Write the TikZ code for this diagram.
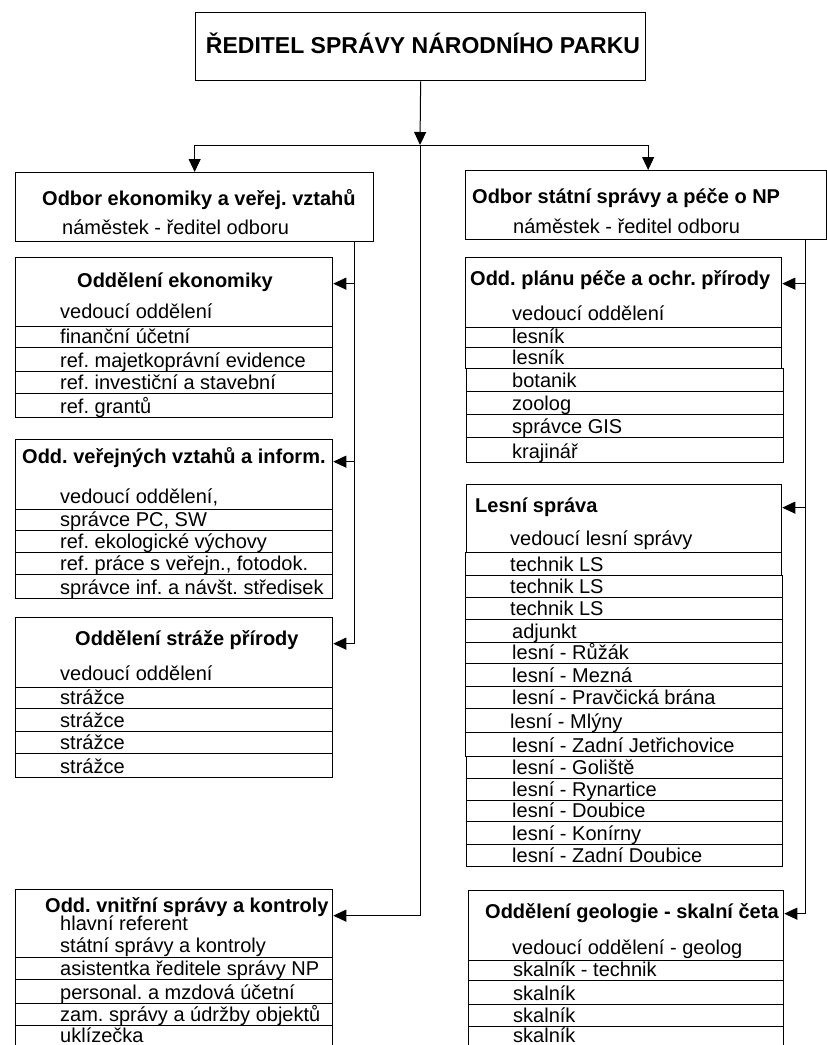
\documentclass[tikz,border=0pt]{standalone}
\usepackage{fontspec}
\setmainfont{Liberation Sans}
\usetikzlibrary{arrows.meta,calc}
\frenchspacing
\tikzset{
  bx/.style={draw, line width=1.3pt, inner sep=0pt, anchor=north west},
  conn/.style={line width=1pt},
  arr/.style={conn, -{Triangle[length=13pt,width=12pt]}},
  ttl/.style={font=\bfseries\fontsize{20}{24}\selectfont, anchor=base west, inner sep=0pt},
  txt/.style={font=\fontsize{20}{24}\selectfont, anchor=base west, inner sep=0pt},
}
% box: name, x, ytop, width, ybottom
\newcommand\mkbox[5]{\node[bx, minimum width=#4, minimum height={#5-#3}] (#1) at (#2,#3) {};}
% row: name, x, width, ytop, ybottom, textx, text
\newcommand\mkrow[7]{\node[bx, minimum width=#3, minimum height={#5-#4}] (#1) at (#2,#4) {};
  \node[txt] (#1t) at (#6,#5-4) {#7};}
\begin{document}
\begin{tikzpicture}[x=1pt,y=-1pt]
\useasboundingbox (0,0) rectangle (827,1045);
\clip (0,0) rectangle (827,1045);
\fill[white] (0,0) rectangle (827,1045);

% top
\mkbox{top}{195}{12}{450}{80}
\node[font=\bfseries\fontsize{23}{28}\selectfont, anchor=base, inner sep=0pt] (topt) at (423,53) {ŘEDITEL SPRÁVY NÁRODNÍHO PARKU};

% left main
\mkbox{lb}{15}{172}{358}{241}
\node[ttl] (lbt) at (42,205) {Odbor ekonomiky a veřej. vztahů};
\node[txt] (lbs) at (62,234) {náměstek - ředitel odboru};

% right main
\mkbox{rb}{465}{170}{361}{239}
\node[ttl] (rbt) at (472,203) {Odbor státní správy a péče o NP};
\node[txt] (rbs) at (513,233) {náměstek - ředitel odboru};

% Oddeleni ekonomiky
\mkbox{ek}{15}{257}{317}{326}
\node[ttl] (ekt) at (77,287) {Oddělení ekonomiky};
\node[txt] (eks) at (60,318) {vedoucí oddělení};
\mkrow{e1}{15}{317}{326}{347}{60}{finanční účetní}
\mkrow{e2}{15}{317}{347}{371}{60}{ref. majetkoprávní evidence}
\mkrow{e3}{15}{317}{371}{393}{60}{ref. investiční a stavební}
\mkrow{e4}{15}{317}{393}{417}{60}{ref. grantů}

% Odd. verejnych vztahu
\mkbox{vz}{15}{439}{317}{509}
\node[ttl] (vzt) at (22,463) {Odd. veřejných vztahů a inform.};
\node[txt] (vzs) at (60,503) {vedoucí oddělení,};
\mkrow{v1}{15}{317}{509}{530}{60}{správce PC, SW}
\mkrow{v2}{15}{317}{530}{552}{60}{ref. ekologické výchovy}
\mkrow{v3}{15}{317}{552}{574}{60}{ref. práce s veřejn., fotodok.}
\mkrow{v4}{15}{317}{574}{598}{60}{správce inf. a návšt. středisek}

% Oddeleni straze prirody
\mkbox{st}{15}{617}{317}{687}
\node[ttl] (stt) at (75,645) {Oddělení stráže přírody};
\node[txt] (sts) at (60,680) {vedoucí oddělení};
\mkrow{s1}{15}{317}{687}{708}{60}{strážce}
\mkrow{s2}{15}{317}{708}{731}{60}{strážce}
\mkrow{s3}{15}{317}{731}{753}{60}{strážce}
\mkrow{s4}{15}{317}{753}{777}{60}{strážce}

% Odd. vnitrni spravy
\mkbox{vn}{15}{889}{317}{957}
\node[ttl] (vnt) at (45,912) {Odd. vnitřní správy a kontroly};
\node[txt] (vns1) at (60,930) {hlavní referent};
\node[txt] (vns2) at (60,952) {státní správy a kontroly};
\mkrow{n1}{15}{317}{957}{979}{60}{asistentka ředitele správy NP}
\mkrow{n2}{15}{317}{979}{1003}{60}{personal. a mzdová účetní}
\mkrow{n3}{15}{317}{1003}{1025}{60}{zam. správy a údržby objektů}
\mkrow{n4}{15}{317}{1025}{1070}{60}{}
\node[txt] (n4t2) at (60,1045-3) {uklízečka};

% Odd. planu pece
\mkbox{pl}{465}{257}{316}{327}
\node[ttl] (plt) at (470,285) {Odd. plánu péče a ochr. přírody};
\node[txt] (pls) at (512,320) {vedoucí oddělení};
\mkrow{p1}{465}{316}{327}{347}{512}{lesník}
\mkrow{p2}{465}{316}{347}{368}{512}{lesník}
\mkrow{p3}{466}{317}{368}{391}{512}{botanik}
\mkrow{p4}{466}{317}{391}{414}{512}{zoolog}
\mkrow{p5}{466}{317}{414}{437}{512}{správce GIS}
\mkrow{p6}{466}{317}{437}{462}{512}{krajinář}

% Lesni sprava
\mkbox{ls}{466}{484}{315}{552}
\node[ttl] (lst) at (475,512) {Lesní správa};
\node[txt] (lss) at (510,545) {vedoucí lesní správy};
\mkrow{l1}{465}{316}{552}{575}{510}{technik LS}
\mkrow{l2}{465}{317}{575}{597}{510}{technik LS}
\mkrow{l3}{465}{317}{597}{619}{510}{technik LS}
\mkrow{l4}{465}{317}{619}{642}{512}{adjunkt}
\mkrow{l5}{465}{317}{642}{663}{512}{lesní - Růžák}
\mkrow{l6}{465}{317}{663}{686}{512}{lesní - Mezná}
\mkrow{l7}{465}{317}{686}{708}{512}{lesní - Pravčická brána}
\mkrow{l8}{465}{317}{708}{732}{510}{lesní - Mlýny}
\mkrow{l9}{465}{317}{732}{756}{512}{lesní - Zadní Jetřichovice}
\mkrow{l10}{466}{316}{756}{778}{512}{lesní - Goliště}
\mkrow{l11}{466}{316}{778}{800}{512}{lesní - Rynartice}
\mkrow{l12}{466}{316}{800}{821}{512}{lesní - Doubice}
\mkrow{l13}{466}{316}{821}{844}{512}{lesní - Konírny}
\mkrow{l14}{466}{316}{844}{866}{512}{lesní - Zadní Doubice}

% Oddeleni geologie
\mkbox{ge}{468}{890}{315}{960}
\node[ttl] (get) at (485,918) {Oddělení geologie - skalní četa};
\node[txt] (ges) at (512,954) {vedoucí oddělení - geolog};
\mkrow{g1}{468}{315}{960}{980}{513}{skalník - technik}
\mkrow{g2}{468}{315}{980}{1004}{513}{skalník}
\mkrow{g3}{468}{315}{1004}{1026}{513}{skalník}
\mkrow{g4}{468}{315}{1026}{1070}{513}{}
\node[txt] (g4t2) at (513,1045-3) {skalník};

% connectors
\coordinate (j) at (420,145);
\draw[arr] (top.south) -- (j);
\draw[arr] (j) -| (lb.north);
\draw[arr] (j) -| ([xshift=2pt]rb.north);
\draw[arr] (j) |- ([yshift=8pt]vn.east);

\coordinate (lv) at (354,241);
\draw[arr] (lv) |- ([yshift=8.5pt]ek.east);
\draw[arr] (lv) |- ([yshift=13pt]vz.east);
\draw[arr] (lv) |- ([yshift=9pt]st.east);

\coordinate (rv) at (805,239);
\draw[arr] (rv) |- ([yshift=9pt]pl.east);
\draw[arr] (rv) |- ([yshift=11pt]ls.east);
\draw[arr] (rv) |- ([yshift=12pt]ge.east);
\end{tikzpicture}
\end{document}
